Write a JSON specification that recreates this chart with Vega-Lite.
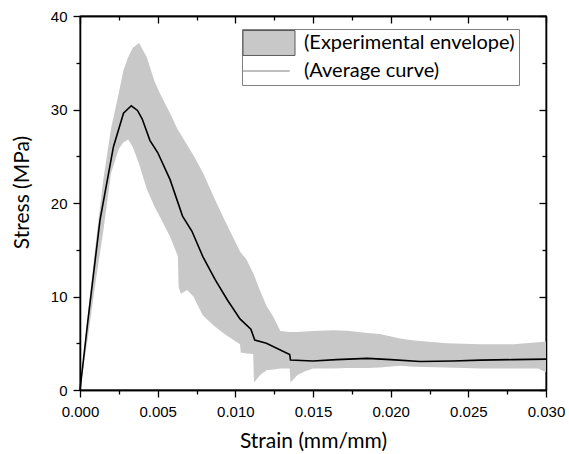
{
  "$schema": "https://vega.github.io/schema/vega-lite/v6.json",
  "autosize": {"type": "none"},
  "width": 466,
  "height": 374,
  "padding": {"left": 80, "top": 16, "right": 23, "bottom": 64},
  "background": "white",
  "config": {
    "view": {"stroke": "black", "strokeWidth": 1.3},
    "axis": {"grid": false, "domainColor": "black", "domainWidth": 1.3, "tickColor": "black", "tickWidth": 1.3,
      "labelFont": "Liberation Sans", "labelFontSize": 15, "labelColor": "black",
      "titleFont": "Lato", "titleFontSize": 21, "titleFontWeight": "normal", "titleColor": "black"}
  },
  "datasets": {
    "env": [
      {"strain": 0, "upper": 0, "lower": 0},
      {"strain": 0.0005, "upper": 8.0, "lower": 5.5},
      {"strain": 0.001, "upper": 15.5, "lower": 11.5},
      {"strain": 0.0015, "upper": 22.5, "lower": 17.0},
      {"strain": 0.002, "upper": 28.0, "lower": 23.2},
      {"strain": 0.0025, "upper": 31.8, "lower": 25.8},
      {"strain": 0.0028, "upper": 34.2, "lower": 26.5},
      {"strain": 0.0031, "upper": 35.6, "lower": 26.8},
      {"strain": 0.0034, "upper": 36.6, "lower": 26.0},
      {"strain": 0.0038, "upper": 37.1, "lower": 24.2},
      {"strain": 0.0043, "upper": 35.6, "lower": 21.5},
      {"strain": 0.0048, "upper": 33.0, "lower": 19.6},
      {"strain": 0.00515, "upper": 31.7, "lower": 18.5},
      {"strain": 0.0058, "upper": 29.6, "lower": 16.4},
      {"strain": 0.0063, "upper": 27.8, "lower": 14.3},
      {"strain": 0.00635, "upper": 27.7, "lower": 11.0},
      {"strain": 0.0065, "upper": 27.3, "lower": 10.3},
      {"strain": 0.0069, "upper": 26.2, "lower": 10.7},
      {"strain": 0.0073, "upper": 25.1, "lower": 10.0},
      {"strain": 0.0079, "upper": 23.3, "lower": 8.0},
      {"strain": 0.0086, "upper": 20.7, "lower": 6.9},
      {"strain": 0.0093, "upper": 18.2, "lower": 6.0},
      {"strain": 0.0103, "upper": 14.8, "lower": 4.9},
      {"strain": 0.01035, "upper": 14.7, "lower": 4.0},
      {"strain": 0.0107, "upper": 14.0, "lower": 3.9},
      {"strain": 0.01115, "upper": 12.5, "lower": 3.85},
      {"strain": 0.0112, "upper": 12.3, "lower": 0.8},
      {"strain": 0.0116, "upper": 10.6, "lower": 1.6},
      {"strain": 0.012, "upper": 9.0, "lower": 2.1},
      {"strain": 0.01245, "upper": 7.8, "lower": 2.2},
      {"strain": 0.0129, "upper": 6.3, "lower": 2.3},
      {"strain": 0.0135, "upper": 6.2, "lower": 2.3},
      {"strain": 0.01355, "upper": 6.2, "lower": 0.8},
      {"strain": 0.014, "upper": 6.2, "lower": 1.6},
      {"strain": 0.0145, "upper": 6.25, "lower": 2.0},
      {"strain": 0.015, "upper": 6.3, "lower": 2.3},
      {"strain": 0.0163, "upper": 6.4, "lower": 2.3},
      {"strain": 0.0172, "upper": 6.35, "lower": 2.35},
      {"strain": 0.0185, "upper": 6.1, "lower": 2.35},
      {"strain": 0.0193, "upper": 6.0, "lower": 2.4},
      {"strain": 0.0206, "upper": 5.5, "lower": 2.6},
      {"strain": 0.0215, "upper": 5.3, "lower": 2.5},
      {"strain": 0.0236, "upper": 5.0, "lower": 2.4},
      {"strain": 0.0258, "upper": 4.9, "lower": 2.3},
      {"strain": 0.0279, "upper": 4.9, "lower": 2.3},
      {"strain": 0.0295, "upper": 5.1, "lower": 2.3},
      {"strain": 0.03, "upper": 5.2, "lower": 1.9}
    ],
    "avg": [
      {"strain": 0, "stress": 0},
      {"strain": 0.0005, "stress": 7.3},
      {"strain": 0.00129, "stress": 18.2},
      {"strain": 0.00215, "stress": 26.0},
      {"strain": 0.0028, "stress": 29.6},
      {"strain": 0.0033, "stress": 30.4},
      {"strain": 0.0037, "stress": 29.9},
      {"strain": 0.004, "stress": 29.0},
      {"strain": 0.0045, "stress": 26.7},
      {"strain": 0.005, "stress": 25.4},
      {"strain": 0.0058, "stress": 22.5},
      {"strain": 0.0066, "stress": 18.6},
      {"strain": 0.0072, "stress": 17.0},
      {"strain": 0.0079, "stress": 14.3},
      {"strain": 0.0087, "stress": 11.8},
      {"strain": 0.0095, "stress": 9.6},
      {"strain": 0.0103, "stress": 7.6},
      {"strain": 0.011, "stress": 6.5},
      {"strain": 0.01125, "stress": 5.35},
      {"strain": 0.012, "stress": 5.0},
      {"strain": 0.0135, "stress": 3.8},
      {"strain": 0.01355, "stress": 3.2},
      {"strain": 0.015, "stress": 3.1},
      {"strain": 0.0165, "stress": 3.25},
      {"strain": 0.0185, "stress": 3.38},
      {"strain": 0.02, "stress": 3.25},
      {"strain": 0.0219, "stress": 3.05},
      {"strain": 0.024, "stress": 3.1},
      {"strain": 0.0258, "stress": 3.2},
      {"strain": 0.0279, "stress": 3.25},
      {"strain": 0.03, "stress": 3.3}
    ]
  },
  "layer": [
    {
      "data": {"name": "env"},
      "mark": {"type": "area", "opacity": 1},
      "encoding": {
        "x": {"field": "strain", "type": "quantitative", "title": "Strain (mm/mm)",
          "scale": {"domain": [0, 0.03], "nice": false, "zero": false},
          "axis": {"orient": "bottom", "values": [0, 0.005, 0.01, 0.015, 0.02, 0.025, 0.03], "format": ".3f",
            "tickSize": 7, "labelPadding": 7, "labelFlush": false, "labelOverlap": false,
            "titleBaseline": "alphabetic", "titleY": 57}},
        "y": {"field": "upper", "type": "quantitative", "title": "Stress (MPa)",
          "scale": {"domain": [0, 40], "nice": false},
          "axis": {"orient": "left", "values": [0, 10, 20, 30, 40],
            "tickSize": 7, "labelPadding": 6, "labelFlush": false, "labelOverlap": false,
            "titleBaseline": "alphabetic", "titleX": -52, "titleY": 176, "titleAngle": 270}},
        "y2": {"field": "lower"},
        "color": {"datum": "(Experimental envelope)", "type": "nominal",
          "scale": {"domain": ["(Experimental envelope)", "(Average curve)"], "range": ["#c8c8c8", "#a8a8a8"]},
          "legend": {
            "title": null, "orient": "none", "legendX": 162, "legendY": 13,
            "padding": 4, "strokeColor": "#808080", "fillColor": "white",
            "symbolSize": 676, "labelOffset": 38, "rowPadding": 3, "labelLimit": 0,
            "symbolType": {"expr": "datum.label === '(Average curve)' ? 'M-1,0H2.6' : 'M-1,-0.96H3V0.96H-1Z'"},
            "symbolStrokeColor": {"expr": "datum.label === '(Average curve)' ? '#a8a8a8' : '#5a5a5a'"},
            "symbolStrokeWidth": {"expr": "datum.label === '(Average curve)' ? 1.5 : 1"},
            "symbolOpacity": 1,
            "labelFont": "Lato", "labelFontSize": 20, "labelColor": "black"}
        }
      }
    },
    {
      "data": {"name": "avg"},
      "mark": {"type": "line", "strokeWidth": 1.6},
      "encoding": {
        "x": {"field": "strain", "type": "quantitative",
          "axis": {"orient": "top", "title": "Strain (mm/mm)", "titleColor": "white", "titlePadding": 80,
            "labelColor": "white", "labelPadding": 60,
            "values": [0, 0.005, 0.01, 0.015, 0.02, 0.025, 0.03], "tickSize": -7}},
        "y": {"field": "stress", "type": "quantitative",
          "axis": {"orient": "right", "title": "Stress (MPa)", "titleColor": "white", "titlePadding": 80,
            "labelColor": "white", "labelPadding": 60,
            "values": [0, 10, 20, 30, 40], "tickSize": -7}},
        "stroke": {"value": "black"},
        "color": {"datum": "(Average curve)", "type": "nominal"}
      }
    },
    {
      "data": {"name": "avg"},
      "mark": {"type": "line", "strokeOpacity": 0},
      "encoding": {
        "x": {"field": "strain", "type": "quantitative",
          "axis": {"orient": "bottom", "title": "Strain (mm/mm)", "titleColor": "white", "titlePadding": 120,
            "labelColor": "white", "labelPadding": 90,
            "values": [0.0025, 0.0075, 0.0125, 0.0175, 0.0225, 0.0275], "tickSize": 4}},
        "y": {"field": "stress", "type": "quantitative",
          "axis": {"orient": "left", "title": "Stress (MPa)", "titleColor": "white", "titlePadding": 140,
            "labelColor": "white", "labelPadding": 110,
            "values": [5, 15, 25, 35], "tickSize": 4}}
      }
    },
    {
      "data": {"name": "avg"},
      "mark": {"type": "line", "strokeOpacity": 0},
      "encoding": {
        "x": {"field": "strain", "type": "quantitative",
          "axis": {"orient": "top", "title": "Strain (mm/mm)", "titleColor": "white", "titlePadding": 80,
            "labelColor": "white", "labelPadding": 60,
            "values": [0.0025, 0.0075, 0.0125, 0.0175, 0.0225, 0.0275], "tickSize": -4}},
        "y": {"field": "stress", "type": "quantitative",
          "axis": {"orient": "right", "title": "Stress (MPa)", "titleColor": "white", "titlePadding": 80,
            "labelColor": "white", "labelPadding": 60,
            "values": [5, 15, 25, 35], "tickSize": -4}}
      }
    }
  ],
  "resolve": {"axis": {"x": "independent", "y": "independent"}}
}
